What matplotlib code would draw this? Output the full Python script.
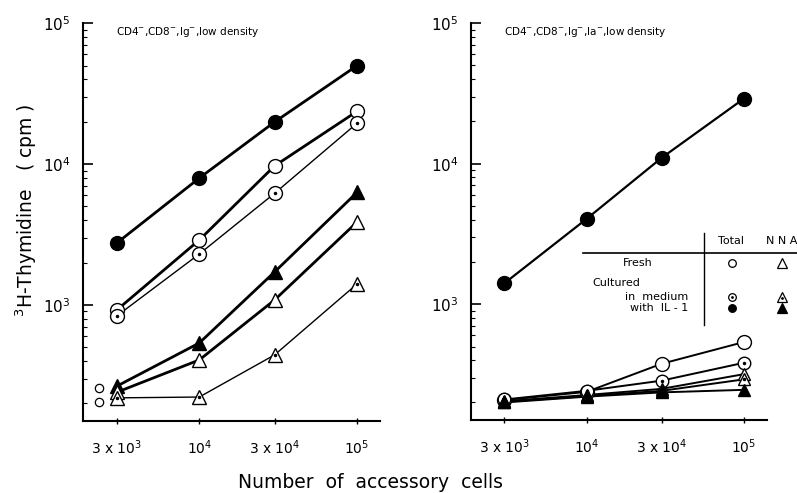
import matplotlib
matplotlib.use('Agg')
import matplotlib.pyplot as plt
from matplotlib.ticker import FixedLocator, NullLocator, LogLocator

# accessory cell numbers
cells = [3e3, 1e4, 3e4, 1e5]
xtick_labels = [r'3 x 10$^3$', r'10$^4$', r'3 x 10$^4$', r'10$^5$']

# left panel: CD4-, CD8-, Ig-, low density
L_il1_total = [2750, 7950, 19900, 50000]
L_fresh_total = [920, 2890, 9700, 23700]
L_medium_total = [835, 2300, 6200, 19500]
L_il1_nna = [265, 537, 1715, 6300]
L_fresh_nna = [240, 407, 1085, 3880]
L_medium_nna = [219, 222, 442, 1410]
L_ctrl_x = [2300, 2300]
L_ctrl_y = [258, 205]

# right panel: CD4-, CD8-, Ig-, Ia-, low density
R_il1_total = [1410, 4050, 11000, 29000]
R_fresh_total = [208, 238, 377, 538]
R_medium_total = [210, 242, 286, 383]
R_fresh_nna = [204, 226, 250, 318]
R_medium_nna = [202, 222, 242, 292]
R_il1_nna = [200, 220, 236, 246]

plt.rcParams['font.family'] = 'DejaVu Sans'
fig = plt.figure(figsize=(7.97, 4.93), dpi=100)

axL = fig.add_axes([0.104, 0.146, 0.373, 0.807])
axR = fig.add_axes([0.591, 0.148, 0.371, 0.805])


def style(ax):
    ax.set_xscale('log')
    ax.set_yscale('log')
    ax.set_ylim(150, 1e5)
    ax.spines['top'].set_visible(False)
    ax.spines['right'].set_visible(False)
    ax.spines['left'].set_linewidth(1.5)
    ax.spines['bottom'].set_linewidth(1.5)
    ax.xaxis.set_major_locator(FixedLocator(cells))
    ax.xaxis.set_minor_locator(NullLocator())
    ax.set_xticklabels(xtick_labels, fontsize=10)
    ax.yaxis.set_major_locator(FixedLocator([1e3, 1e4, 1e5]))
    ax.yaxis.set_minor_locator(LogLocator(base=10, subs=[2, 3, 4, 5, 6, 7, 8, 9]))
    ax.set_yticklabels([r'10$^3$', r'10$^4$', r'10$^5$'], fontsize=11)
    ax.tick_params(axis='y', which='major', direction='in', length=7, width=1.2, pad=9)
    ax.tick_params(axis='y', which='minor', direction='in', length=3, width=0.8)
    ax.tick_params(axis='x', which='major', direction='inout', length=5, width=1.0, pad=10)


def series(ax, y, marker, fill, lw, ms, dot=False):
    ax.plot(cells, y, '-', color='black', lw=lw, zorder=2)
    ax.plot(cells, y, marker, ms=ms, mfc=fill, mec='black', mew=1.0,
            linestyle='none', zorder=3)
    if dot:
        ax.plot(cells, y, '.', ms=3, color='black', linestyle='none', zorder=4)


# left panel
axL.set_xlim(1830, 1.4e5)
style(axL)
series(axL, L_il1_total, 'o', 'black', 2.0, 10)
series(axL, L_fresh_total, 'o', 'white', 2.0, 10)
series(axL, L_medium_total, 'o', 'white', 1.0, 10, dot=True)
series(axL, L_il1_nna, '^', 'black', 2.0, 10)
series(axL, L_fresh_nna, '^', 'white', 2.0, 10)
series(axL, L_medium_nna, '^', 'white', 1.0, 10, dot=True)
axL.plot(L_ctrl_x, L_ctrl_y, 'o', ms=6, mfc='white', mec='black', mew=0.9,
         linestyle='none')
axL.text(0.11, 0.995, r'CD4$^{-}$,CD8$^{-}$,Ig$^{-}$,low density',
         transform=axL.transAxes, fontsize=7.5, va='top', ha='left')

# right panel
axR.set_xlim(1840, 1.4e5)
style(axR)
series(axR, R_il1_total, 'o', 'black', 1.6, 10)
series(axR, R_fresh_total, 'o', 'white', 1.4, 10)
series(axR, R_medium_total, 'o', 'white', 1.4, 9, dot=True)
series(axR, R_fresh_nna, '^', 'white', 1.4, 9)
series(axR, R_medium_nna, '^', 'white', 1.4, 9, dot=True)
series(axR, R_il1_nna, '^', 'black', 1.4, 9)
axR.text(0.11, 0.995, r'CD4$^{-}$,CD8$^{-}$,Ig$^{-}$,Ia$^{-}$,low density',
         transform=axR.transAxes, fontsize=7.5, va='top', ha='left')

# legend table in figure pixels (y from top)
W, H = 797, 493


def fx(px):
    return px / W


def fy(py):
    return 1 - py / H


fig.add_artist(plt.Line2D([fx(583), fx(797)], [fy(253), fy(253)],
                          color='black', lw=1.2))
fig.add_artist(plt.Line2D([fx(704), fx(704)], [fy(233), fy(325)],
                          color='black', lw=1.0))
fig.text(fx(718), fy(241), 'Total', fontsize=8, va='center', ha='left')
fig.text(fx(766), fy(241), 'N N A', fontsize=8, va='center', ha='left')
fig.text(fx(653), fy(263), 'Fresh', fontsize=8, va='center', ha='right')
fig.text(fx(592), fy(283), 'Cultured', fontsize=8, va='center', ha='left')
fig.text(fx(688), fy(297), 'in  medium', fontsize=8, va='center', ha='right')
fig.text(fx(688), fy(308), 'with  IL - 1', fontsize=8, va='center', ha='right')

leg_rows = [263, 297, 308]
leg_fill = ['white', 'white', 'black']
for row, fill, dot in zip(leg_rows, leg_fill, [False, True, False]):
    fig.add_artist(plt.Line2D([fx(732)], [fy(row)], marker='o', ms=5.5,
                              mfc=fill, mec='black', mew=0.9, linestyle='none'))
    fig.add_artist(plt.Line2D([fx(782)], [fy(row)], marker='^', ms=7,
                              mfc=fill, mec='black', mew=0.9, linestyle='none'))
    if dot:
        fig.add_artist(plt.Line2D([fx(732)], [fy(row)], marker='.', ms=2,
                                  color='black', linestyle='none'))
        fig.add_artist(plt.Line2D([fx(782)], [fy(row + 1)], marker='.', ms=2,
                                  color='black', linestyle='none'))

fig.text(fx(26), fy(210), r'$^3$H-Thymidine   ( cpm )', rotation=90,
         fontsize=13.5, va='center', ha='center')
fig.text(fx(371), fy(483), 'Number  of  accessory  cells', fontsize=13.5,
         va='center', ha='center')

fig.savefig('out.png', dpi=100, facecolor='white')
